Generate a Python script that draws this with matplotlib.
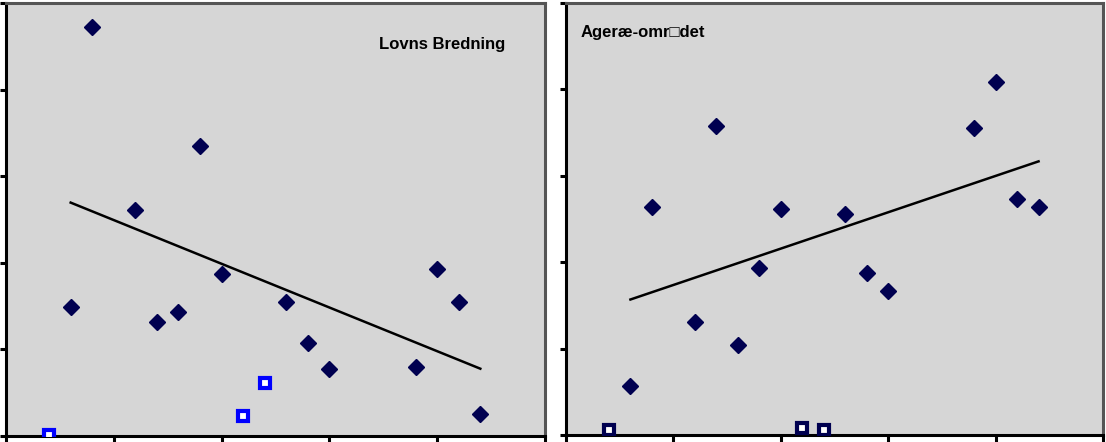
import numpy as np
import matplotlib
matplotlib.use("Agg")
import matplotlib.pyplot as plt
from matplotlib.transforms import IdentityTransform

plt.rcParams['font.family'] = ['Liberation Sans', 'DejaVu Sans']

# ---- data ----
x_vals = [0.6, 0.8, 1.2, 1.4, 1.6, 1.8, 2.0, 2.6, 2.8, 3.0, 3.8, 4.0, 4.2, 4.4]
lovns_y = [1.49, 4.72, 2.61, 1.32, 1.43, 3.35, 1.87, 1.55, 1.07, 0.77, 0.80, 1.93, 1.55, 0.25]
agero_y = [0.57, 2.64, 1.31, 3.58, 1.04, 1.93, 2.62, 2.56, 1.88, 1.67, 3.55, 4.09, 2.73, 2.64]

sq_x = [0.4, 2.2, 2.4]
lovns_sq_y = [0.01, 0.23, 0.61]
agero_sq_y = [0.06, 0.08, 0.06]

titles = ["Lovns Bredning", "Ageræ-omr\u25a1det"]

W, H = 1106, 442
fig = plt.figure(figsize=(W / 100, H / 100), dpi=100)
fig.patch.set_facecolor('white')

bg = '#D6D6D6'
navy = '#000050'
gray_edge = '#555555'


def make_ax(rect_px):
    x0, y0, w, h = rect_px
    ax = fig.add_axes([x0 / W, (H - y0 - h) / H, w / W, h / H])
    ax.set_facecolor(bg)
    ax.set_xlim(0, 5)
    ax.set_ylim(0, 5)
    ax.set_xticks(np.arange(0, 6, 1))
    ax.set_yticks(np.arange(0, 6, 1))
    ax.set_xticklabels([])
    ax.set_yticklabels([])
    for s in ['left', 'bottom']:
        ax.spines[s].set_color('black')
        ax.spines[s].set_linewidth(2.2)
    for s in ['top', 'right']:
        ax.spines[s].set_color(gray_edge)
        ax.spines[s].set_linewidth(2.2)
    ax.tick_params(axis='both', direction='out', length=4.5, width=2.2, color='black')
    ax.tick_params(axis='x', length=5)
    return ax


def draw(ax, ys, sqy, sq_color):
    xs = np.array(x_vals)
    ys = np.array(ys)
    ax.plot(xs, ys, linestyle='none', marker='D', markersize=8.3,
            color=navy, markeredgecolor=navy, zorder=3, clip_on=False)
    k, b = np.polyfit(xs, ys, 1)
    xl = np.array([xs.min(), xs.max()])
    ax.plot(xl, k * xl + b, color='black', linewidth=1.8, zorder=2)
    ax.plot(sq_x, sqy, linestyle='none', marker='s', markersize=6.5,
            markerfacecolor='white', markeredgecolor=sq_color,
            markeredgewidth=3.0, zorder=3)


ax1 = make_ax((6, 3, 539, 433))
draw(ax1, lovns_y, lovns_sq_y, '#0000FF')
t1 = ax1.text(0, 0, titles[0], fontsize=12, fontweight='bold', ha='center', va='center')
t1.set_transform(IdentityTransform())
t1.set_position((442, H - 45))

ax2 = make_ax((566, 3, 537, 432))
draw(ax2, agero_y, agero_sq_y, navy)
t2 = ax2.text(0, 0, titles[1], fontsize=12, fontweight='bold', ha='left', va='center')
t2.set_transform(IdentityTransform())
t2.set_position((581, H - 33))

fig.savefig('out.png', dpi=100)
